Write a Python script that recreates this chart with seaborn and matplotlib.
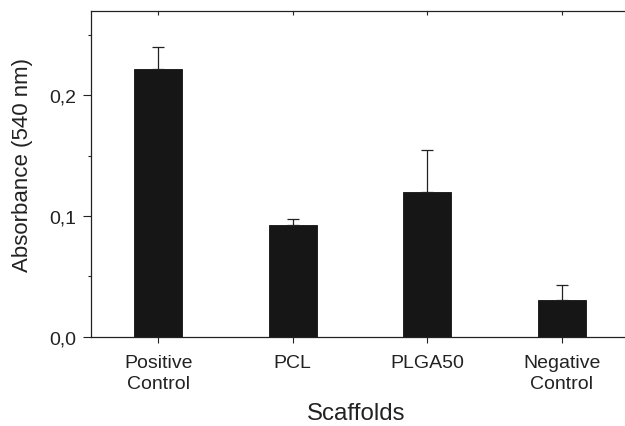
import matplotlib
matplotlib.use("Agg")
import matplotlib.pyplot as plt
import seaborn as sns
import pandas as pd
import numpy as np
from matplotlib.ticker import MultipleLocator, FuncFormatter

categories = ["Positive\nControl", "PCL", "PLGA50", "Negative\nControl"]
absorbance = [0.222, 0.0925, 0.120, 0.030]
error_up = [0.018, 0.0048, 0.0344, 0.013]

df = pd.DataFrame({"Scaffold": categories, "Absorbance": absorbance})

sns.set_theme(style="ticks")
plt.rcParams["font.family"] = ["Liberation Sans", "DejaVu Sans"]

fig = plt.figure(figsize=(6.25, 4.27), dpi=100)
ax = fig.add_axes([91 / 625, (427 - 337.7) / 427, (629 - 91) / 625, (337.7 - 11.7) / 427])

sns.barplot(data=df, x="Scaffold", y="Absorbance", color="#161616", width=0.357,
            errorbar=None, edgecolor="#111111", linewidth=0.6, saturation=1, ax=ax)

xpos = np.arange(len(categories))
ax.errorbar(xpos, absorbance, yerr=[np.zeros(len(error_up)), error_up], fmt="none",
            ecolor="#222222", elinewidth=0.9, capsize=4, capthick=0.9)

ax.set_xlim(-0.5, 3.5)
ax.set_ylim(0, 0.27)
ax.yaxis.set_major_locator(MultipleLocator(0.1))
ax.yaxis.set_minor_locator(MultipleLocator(0.05))
ax.yaxis.set_major_formatter(FuncFormatter(lambda v, p: f"{v:.1f}".replace(".", ",")))

for s in ["left", "bottom", "top", "right"]:
    ax.spines[s].set_linewidth(0.9)
    ax.spines[s].set_color("#222222")

ax.tick_params(axis="y", which="major", direction="out", length=5.5, width=0.8,
               labelsize=14, pad=5, colors="#222222")
ax.tick_params(axis="y", which="minor", direction="out", length=2.5, width=0.8, colors="#222222")
ax.tick_params(axis="x", which="major", direction="out", length=4, width=0.8,
               labelsize=14, pad=8.5, colors="#222222", top=True)
for t in ax.xaxis.get_major_ticks():
    t.tick2line.set_marker(3)
    t.tick2line.set_markersize(3)

for lbl in ax.get_xticklabels():
    lbl.set_linespacing(1.3)

ax.set_xlabel("Scaffolds", fontsize=17.3, color="#222222")
ax.set_ylabel("Absorbance (540 nm)", fontsize=16, color="#222222")
ax.xaxis.set_label_coords(356 / 625, (427 - 403) / 427, transform=fig.transFigure)
ax.yaxis.set_label_coords(33 / 625, (427 - 165) / 427, transform=fig.transFigure)

fig.savefig("out.png", dpi=100)
